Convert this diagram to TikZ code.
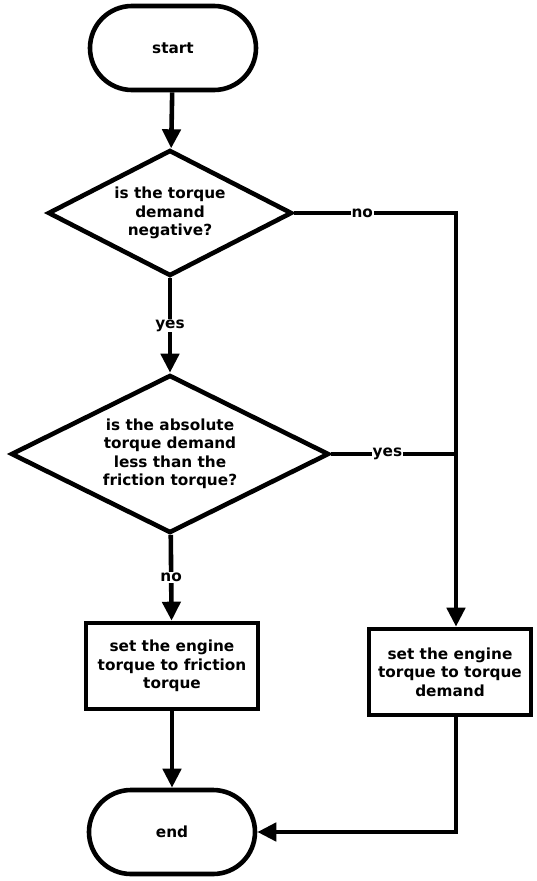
\documentclass[tikz,border=0pt]{standalone}
\usepackage{fontspec}
\setmainfont{DejaVu Sans}
\usetikzlibrary{shapes.geometric,arrows.meta}

\begin{document}
\begin{tikzpicture}[x=1pt,y=-1pt,
  txt/.style={font=\bfseries\fontsize{15.3}{18.5}\selectfont, align=center},
  terminal/.style={txt, draw, line width=4.6pt, rounded corners=42pt,
    minimum width=166pt, minimum height=84pt, inner sep=0pt},
  decision/.style={txt, draw, shape=diamond, line width=4.6pt, inner sep=0pt},
  process/.style={txt, draw, line width=4.6pt, inner sep=0pt,
    minimum height=86pt},
  flow/.style={line width=4.6pt},
  arr/.style={flow, -{Triangle[length=19pt,width=18pt]}},
  lbl/.style={txt, fill=white, inner sep=1pt}]
  \useasboundingbox (0,0) rectangle (536,881);

  % nodes
  \node[terminal] (start) at (173,48) {start};
  \node[decision, minimum width=244pt, minimum height=126pt, aspect=1.9]
    (d1) at (170,213) {is the torque\\demand\\negative?};
  \node[decision, minimum width=318pt, minimum height=158pt, aspect=2]
    (d2) at (170,454) {is the absolute\\torque demand\\less than the\\friction torque?};
  \node[process, minimum width=172pt] (b1) at (172,666)
    {set the engine\\torque to friction\\torque};
  \node[process, minimum width=162pt] (b2) at (450,672)
    {set the engine\\torque to torque\\demand};
  \node[terminal] (end) at (172,832) {end};

  % right-hand column of the "no"/"yes" branches
  \coordinate (col) at (456,213);
  \coordinate (join) at (d2.east -| col);

  % connectors
  \draw[arr] (start) -- (d1);
  \draw[arr] (d1) -- node[lbl] {yes} (d2);
  \draw[arr] (d2) -- node[lbl] {no} (b1);
  \draw[arr] (d1.east) -- node[lbl, pos=0.42] {no} (col) -- (b2.north -| col);
  \draw[flow] (d2.east) -- node[lbl, pos=0.45] {yes} (join);
  \draw[arr] (b1) -- (end);
  \draw[arr] (b2.south -| col) |- (end.east);
\end{tikzpicture}
\end{document}
